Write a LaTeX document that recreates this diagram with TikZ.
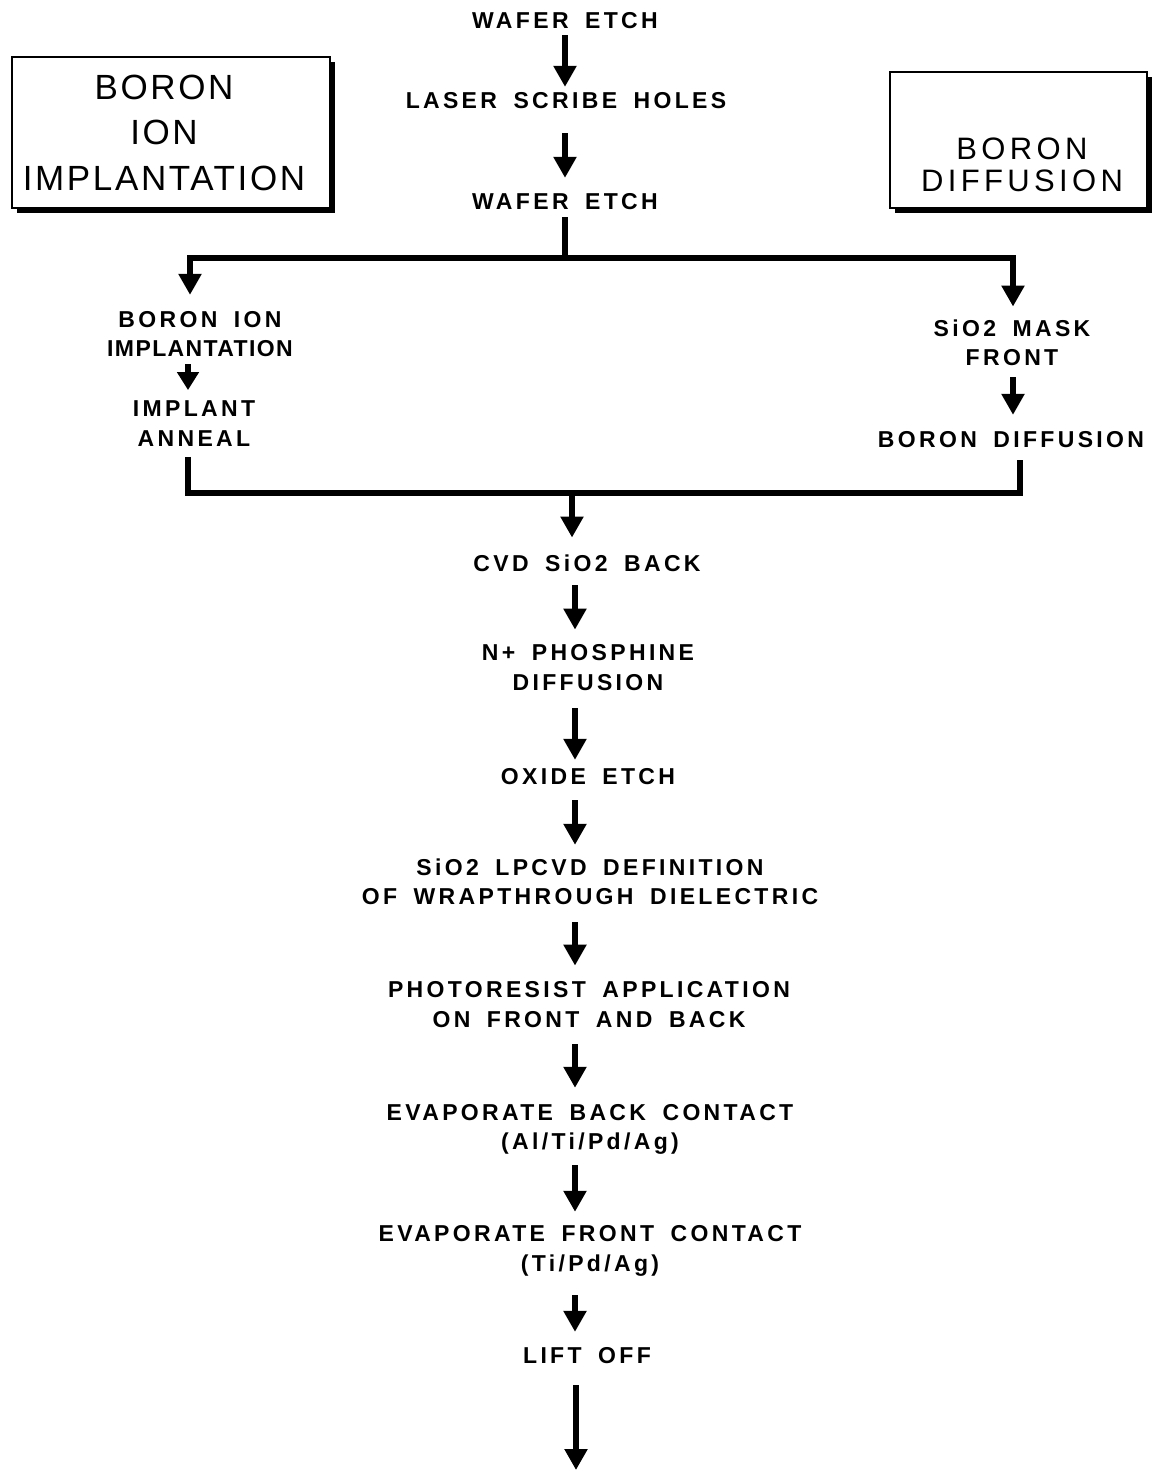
\documentclass[tikz,border=0pt]{standalone}
\usepackage{fontspec}
\setmainfont{Liberation Sans}
\newfontfamily\stepfont[LetterSpace=14.5,WordSpace=1.7]{Liberation Sans}
\newfontfamily\leftboxfont[LetterSpace=7.5]{Liberation Sans}
\newfontfamily\rightboxfont[LetterSpace=14]{Liberation Sans}
\usetikzlibrary{arrows.meta,shadows}

\begin{document}
\begin{tikzpicture}[x=1pt,y=-1pt,
  lbl/.style={font=\stepfont\bfseries\fontsize{23}{29.5}\selectfont, align=center, inner sep=0pt, outer sep=0pt},
  arr/.style={line width=6pt, line join=miter, -{Triangle[width=22pt,length=21pt]}},
  bar/.style={line width=5.5pt, line join=miter},
  frame/.style={draw, line width=1.6pt, fill=white, inner sep=0pt,
    drop shadow={shadow xshift=5pt, shadow yshift=-5pt, fill=black, opacity=1}},
]
\fill[white] (0,0) rectangle (1158,1472);
\useasboundingbox (0,0) rectangle (1158,1472);

% title boxes
\node[frame, minimum width=318pt, minimum height=151pt] (boxl) at (171,132.5) {};
\node[font=\leftboxfont\fontsize{35}{45.5}\selectfont, align=center, inner sep=0pt] (boxltxt) at (164,132.5) {BORON\\ION\\IMPLANTATION};
\node[frame, minimum width=257pt, minimum height=136pt] (boxr) at (1018.5,140) {};
\node[font=\rightboxfont\fontsize{31}{32}\selectfont, align=center, inner sep=0pt] (boxrtxt) at (1022,165) {BORON\\DIFFUSION};

% process steps, top column
\node[lbl] (we1) at (565,21) {WAFER ETCH};
\node[lbl] (lsh) at (566,101) {LASER SCRIBE HOLES};
\node[lbl] (we2) at (565,202) {WAFER ETCH};

% left branch
\node[lbl] (bii) at (200,334.25) {BORON ION\\{\addfontfeature{LetterSpace=6}IMPLANTATION}};
\node[lbl] (ian) at (194,423.75) {IMPLANT\\ANNEAL};

% right branch
\node[lbl] (smf) at (1012,342.75) {SiO2 MASK\\FRONT};
\node[lbl] (bdf) at (1011,440) {BORON DIFFUSION};

% main column after the merge
\node[lbl] (cvd) at (587,563) {CVD SiO2 BACK};
\node[lbl] (nph) at (588,667.5) {N+ PHOSPHINE\\DIFFUSION};
\node[lbl] (oxe) at (588,777) {OXIDE ETCH};
\node[lbl] (lpc) at (590,882) {SiO2 LPCVD DEFINITION\\OF WRAPTHROUGH DIELECTRIC};
\node[lbl] (pho) at (589,1004.5) {PHOTORESIST APPLICATION\\ON FRONT AND BACK};
\node[lbl] (ebc) at (590,1129.5) {EVAPORATE BACK CONTACT\\(Al/Ti/Pd/Ag)};
\node[lbl] (efc) at (590,1251) {EVAPORATE FRONT CONTACT\\(Ti/Pd/Ag)};
\node[lbl] (lof) at (587,1356) {LIFT OFF};

% junction points
\coordinate (split) at (565,258);
\coordinate (bl) at (190,258);
\coordinate (br) at (1013,258);
\coordinate (ml) at (188,493);
\coordinate (mr) at (1020,493);
\coordinate (merge) at (572,493);
\coordinate (axis) at (575,0);
\coordinate (tail) at (576,1470);

% top column
\draw[arr, shorten <=6pt, shorten >=6pt] (we1) -- (we1 |- lsh.north);
\draw[arr, shorten <=24pt, shorten >=16pt] (we2 |- lsh.south) -- (we2);
\draw[bar, shorten <=7pt] (we2) -- (split);

% split into the two branches
\draw[arr, shorten >=16.5pt] (split) -- (bl) -- (bl |- bii.north);
\draw[arr, shorten >=13pt] (split) -- (br) -- (br |- smf.north);
\draw[arr, shorten <=7pt, shorten >=11pt, -{Triangle[width=21pt,length=18pt]}]
  (ml |- bii.south) -- (ml |- ian.north);
\draw[arr, shorten <=11.5pt, shorten >=17pt] (br |- smf.south) -- (br |- bdf.north);

% merge of the branches
\draw[bar, shorten <=10.5pt, shorten >=12pt] (ml |- ian.south) -- (ml) -- (mr) -- (mr |- bdf.south);
\draw[arr, shorten >=17pt] (merge) -- (merge |- cvd.north);

% main column
\draw[arr, shorten <=14pt, shorten >=15pt] (axis |- cvd.south) -- (axis |- nph.north);
\draw[arr, shorten <=18pt, shorten >=9pt] (axis |- nph.south) -- (axis |- oxe.north);
\draw[arr, shorten <=15pt, shorten >=14pt] (axis |- oxe.south) -- (axis |- lpc.north);
\draw[arr, shorten <=17pt, shorten >=16pt] (axis |- lpc.south) -- (axis |- pho.north);
\draw[arr, shorten <=17pt, shorten >=16.5pt] (axis |- pho.south) -- (axis |- ebc.north);
\draw[arr, shorten <=10.5pt, shorten >=14pt] (axis |- ebc.south) -- (axis |- efc.north);
\draw[arr, shorten <=19pt, shorten >=16pt] (axis |- efc.south) -- (axis |- lof.north);
\draw[arr, shorten <=21pt] (tail |- lof.south) -- (tail);
\end{tikzpicture}
\end{document}
